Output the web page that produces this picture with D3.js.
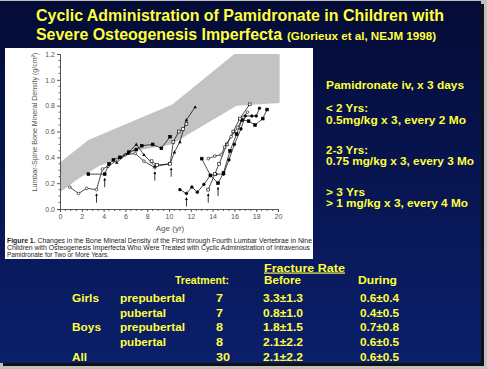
<!DOCTYPE html>
<html><head><meta charset="utf-8">
<script src="https://cdn.jsdelivr.net/npm/d3@7"></script>
<style>body{margin:0;background:#c0c0c0}svg{display:block}</style>
</head><body>
<script>
// ---------- data ----------
const titleLine1 = "Cyclic Administration of Pamidronate in Children with";
const titleLine2 = "Severe Osteogenesis Imperfecta";
const titleCite = "(Glorieux et al, NEJM 1998)";
const regimenLines = ["Pamidronate iv, x 3 days", "", "< 2 Yrs:", "0.5mg/kg x 3, every 2 Mo", "", "2-3 Yrs:", "0.75 mg/kg x 3, every 3 Mo", "", "> 3 Yrs", "> 1 mg/kg x 3, every 4 Mo"];
const captionLines = ["Changes in the Bone Mineral Density of the First through Fourth Lumbar Vertebrae in Nine",
  "Children with Osteogenesis Imperfecta Who Were Treated with Cyclic Administration of Intravenous",
  "Pamidronate for Two or More Years."];
const ageTicks = [0,2,4,6,8,10,12,14,16,18,20];
const bmdTicks = [0,0.2,0.4,0.6,0.8,1.0,1.2];
const bandUpper = [[0,0.36],[2.6,0.535],[10.3,0.81],[16.0,1.2],[20.15,1.2]];
const bandLower = [[0,0.13],[1.5,0.225],[3.5,0.33],[7.2,0.455],[10.2,0.5],[16.2,0.80],[20.15,0.82]];
const p1 = [[0.9,0.17],[1.7,0.12],[2.45,0.16],[3.35,0.15],[3.9,0.31],[4.4,0.33],[6.0,0.42],[6.9,0.43],[7.7,0.37],[8.7,0.32]];
const p2 = [[2.6,0.27],[4.1,0.27],[4.5,0.35],[4.9,0.38],[5.5,0.40],[6.3,0.44],[7.0,0.46],[7.5,0.49],[8.5,0.50],[9.3,0.47],[10.1,0.56]];
const p3 = [[5.2,0.36],[6.2,0.43],[7.0,0.50],[7.7,0.42],[8.7,0.33],[10.1,0.35],[10.5,0.44],[11.0,0.52],[11.6,0.69],[12.4,0.79]];
const p4 = [[8.4,0.37],[8.9,0.34],[10.1,0.35],[10.4,0.52],[10.9,0.60],[11.3,0.62],[11.6,0.66]];
const p5 = [[11.0,0.15],[11.6,0.12],[12.1,0.17],[12.6,0.13],[13.2,0.19],[13.8,0.26],[14.3,0.27],[15.0,0.27],[15.5,0.38],[16.0,0.50],[16.6,0.62],[17.0,0.72],[17.6,0.72],[18.0,0.72],[18.3,0.78]];
const p6 = [[13.0,0.39],[13.8,0.26],[14.5,0.20],[15.0,0.28],[15.6,0.45],[16.2,0.58],[16.7,0.69],[17.3,0.68],[17.9,0.65],[18.6,0.70],[19.0,0.77]];
const p7 = [[13.6,0.15],[14.2,0.27],[14.6,0.35],[15.3,0.50],[15.9,0.60],[16.5,0.70],[17.4,0.81]];
const p8 = [[13.6,0.39],[14.2,0.41],[14.8,0.42],[15.1,0.48],[15.7,0.56],[16.3,0.63],[16.8,0.71],[17.2,0.75]];
const patients = [p1,p2,p3,p4,p5,p6,p7,p8];
const markerTypes = ["openCircle","square","triangle","openSquare","circle","square","openSquare","openCircle"];
const treatmentStarts = [[3.35,0.15],[4.1,0.27],[8.7,0.32],[10.2,0.35],[11.6,0.12],[13.6,0.15],[14.5,0.20]];
const sexLabels = ["Girls","","Boys","","All"];
const groupLabels = ["prepubertal","pubertal","prepubertal","pubertal",""];
const nTreated = ["7","7","8","8","30"];
const rateBefore = ["3.3±1.3","0.8±1.0","1.8±1.5","2.1±2.2","2.1±2.2"];
const rateDuring = ["0.6±0.4","0.4±0.5","0.7±0.8","0.6±0.5","0.6±0.5"];

// ---------- drawing ----------
const W = 487, H = 369;
const svg = d3.select("body").append("svg").attr("width", W).attr("height", H);
const defs = svg.append("defs");
const grad = defs.append("linearGradient").attr("id","bg").attr("x1",0).attr("y1",0).attr("x2",0).attr("y2",1);
grad.append("stop").attr("offset","0%").attr("stop-color","#040b36");
grad.append("stop").attr("offset","100%").attr("stop-color","#0b1f6c");
defs.append("marker").attr("id","ah").attr("viewBox","0 0 6 6").attr("refX",3).attr("refY",3)
  .attr("markerWidth",3.5).attr("markerHeight",3.5).attr("orient","auto")
  .append("path").attr("d","M0,0L6,3L0,6Z").attr("fill","#000");

svg.append("rect").attr("width",W).attr("height",H).attr("fill","#c0c0c0");
svg.append("rect").attr("x",3).attr("y",4).attr("width",481).attr("height",362).attr("fill","#111");
svg.append("rect").attr("x",0).attr("y",1).attr("width",481).attr("height",362).attr("fill","url(#bg)");

const FONT = "'Liberation Sans', Arial, sans-serif";
const YEL = "#ffff3c";
function txt(g, x, y, s, size, opts = {}) {
  const t = g.append("text").attr("x", x).attr("y", y).text(s)
    .attr("font-family", FONT).attr("font-size", size)
    .attr("font-weight", opts.weight || "bold").attr("fill", opts.fill || YEL);
  if (opts.anchor) t.attr("text-anchor", opts.anchor);
  if (opts.width) t.attr("textLength", opts.width).attr("lengthAdjust", "spacingAndGlyphs");
  if (opts.underline) t.attr("text-decoration", "underline");
  return t;
}

// title
txt(svg, 36, 21, titleLine1, 16, {width: 408});
txt(svg, 36, 39.5, titleLine2, 16, {width: 246});
txt(svg, 287, 39.5, titleCite, 11, {width: 149});

// right text
const rY = [88.5,0,112,123.5,0,153.5,165,0,195.5,207];
const rW = [138,0,42,140,0,42,148,0,39,142];
regimenLines.forEach((s,i) => { if (s) txt(svg, 326, rY[i], s, 11, {width: rW[i]}); });

// figure panel
svg.append("rect").attr("x",5).attr("y",48).attr("width",308).attr("height",211).attr("fill","#fff");

const x = d3.scaleLinear().domain([0,20]).range([60,278]);
const y = d3.scaleLinear().domain([0,1.2]).range([209,54]);
const chart = svg.append("g");

// normal range band
const bandPts = bandUpper.concat(bandLower.slice().reverse());
chart.append("path").attr("d", d3.line().x(d=>x(d[0])).y(d=>y(d[1]))(bandPts) + "Z").attr("fill","#c3c3c3");

// axes
const AX = "#444";
const xAxis = d3.axisBottom(x).tickValues(ageTicks).tickSize(3).tickPadding(2).tickFormat(d3.format("d"));
const gx = chart.append("g").attr("transform","translate(0,209)").call(xAxis);
const xMinor = d3.range(0,20.01,0.5).filter(v => v % 2 !== 0);
gx.selectAll(".minor").data(xMinor).enter().append("line").attr("class","minor")
  .attr("x1",d=>x(d)).attr("x2",d=>x(d)).attr("y1",0).attr("y2",2).attr("stroke",AX).attr("stroke-width",0.8);
const yAxis = d3.axisLeft(y).tickValues(bmdTicks).tickSize(3).tickPadding(2).tickFormat(d3.format(".1f"));
const gy = chart.append("g").attr("transform","translate(60,0)").call(yAxis);
const yMinor = d3.range(0,1.2001,0.05).map(v=>+v.toFixed(2)).filter(v => Math.abs(v/0.2 - Math.round(v/0.2)) > 1e-6);
gy.selectAll(".minor").data(yMinor).enter().append("line").attr("class","minor")
  .attr("y1",d=>y(d)).attr("y2",d=>y(d)).attr("x1",0).attr("x2",-1.5).attr("stroke",AX).attr("stroke-width",0.8);
[gx, gy].forEach(g => {
  g.select(".domain").attr("stroke",AX).attr("stroke-width",0.9);
  g.selectAll(".tick line").attr("stroke",AX).attr("stroke-width",0.9);
  g.selectAll(".tick text").attr("fill","#555").attr("font-size",7).attr("font-family",FONT);
});
txt(chart, 170, 231, "Age (yr)", 8, {fill:"#555", weight:"normal", anchor:"middle"});
txt(chart, 0, 0, "Lumbar-Spine Bone Mineral Density (g/cm²)", 7.5, {fill:"#555", weight:"normal", anchor:"middle", width:139})
  .attr("transform","translate(37,122) rotate(-90)");

// patient traces
const line = d3.line().x(d=>x(d[0])).y(d=>y(d[1]));
patients.forEach((p,i) => {
  chart.append("path").attr("d", line(p)).attr("fill","none").attr("stroke","#000").attr("stroke-width",0.7);
  const type = markerTypes[i];
  const g = chart.append("g");
  p.forEach(d => {
    const cx = x(d[0]), cy = y(d[1]);
    if (type === "circle" || type === "openCircle") {
      g.append("circle").attr("cx",cx).attr("cy",cy).attr("r",1.35)
        .attr("fill", type==="circle" ? "#000" : "#fff").attr("stroke","#000").attr("stroke-width",0.6);
    } else if (type === "square" || type === "openSquare") {
      g.append("rect").attr("x",cx-1.4).attr("y",cy-1.4).attr("width",2.8).attr("height",2.8)
        .attr("fill", type==="square" ? "#000" : "#fff").attr("stroke","#000").attr("stroke-width",0.6);
    } else {
      g.append("path").attr("d",`M${cx},${cy-1.8}L${cx+1.7},${cy+1.3}L${cx-1.7},${cy+1.3}Z`).attr("fill","#000");
    }
  });
});
// treatment start arrows
chart.selectAll(".arrow").data(treatmentStarts).enter().append("line").attr("class","arrow")
  .attr("x1",d=>x(d[0])).attr("x2",d=>x(d[0]))
  .attr("y1",d=>y(d[1])+13).attr("y2",d=>y(d[1])+5)
  .attr("stroke","#000").attr("stroke-width",0.8).attr("marker-end","url(#ah)");

// caption
const c1 = svg.append("text").attr("x",7).attr("y",243).attr("font-family",FONT).attr("font-size",6.4).attr("fill","#222")
  .attr("textLength",305).attr("lengthAdjust","spacingAndGlyphs");
c1.append("tspan").attr("font-weight","bold").text("Figure 1. ");
c1.append("tspan").text(captionLines[0]);
txt(svg, 7, 250, captionLines[1], 6.4, {fill:"#222", weight:"normal", width:303});
txt(svg, 7, 257.3, captionLines[2], 6.4, {fill:"#222", weight:"normal", width:102});

// fracture table
const TS = 11.5;
txt(svg, 264, 271.5, "Fracture Rate", TS, {width: 81, underline: true});
txt(svg, 175, 284, "Treatment:", TS, {width: 54});
txt(svg, 264, 284, "Before", TS, {width: 37});
txt(svg, 358, 284, "During", TS, {width: 39});
const rowY = [302, 316.5, 331, 345.5, 360.5];
rowY.forEach((ry,i) => {
  if (sexLabels[i]) txt(svg, 72, ry, sexLabels[i], TS, {width: sexLabels[i]==="All" ? 15 : (sexLabels[i]==="Girls" ? 27 : 29)});
  if (groupLabels[i]) txt(svg, 120, ry, groupLabels[i], TS, {width: groupLabels[i]==="prepubertal" ? 65 : 46});
  txt(svg, 216, ry, nTreated[i], TS, {width: nTreated[i].length*7});
  txt(svg, 263, ry, rateBefore[i], TS, {width: 40});
  txt(svg, 360, ry, rateDuring[i], TS, {width: 39});
});
</script>
</body></html>
